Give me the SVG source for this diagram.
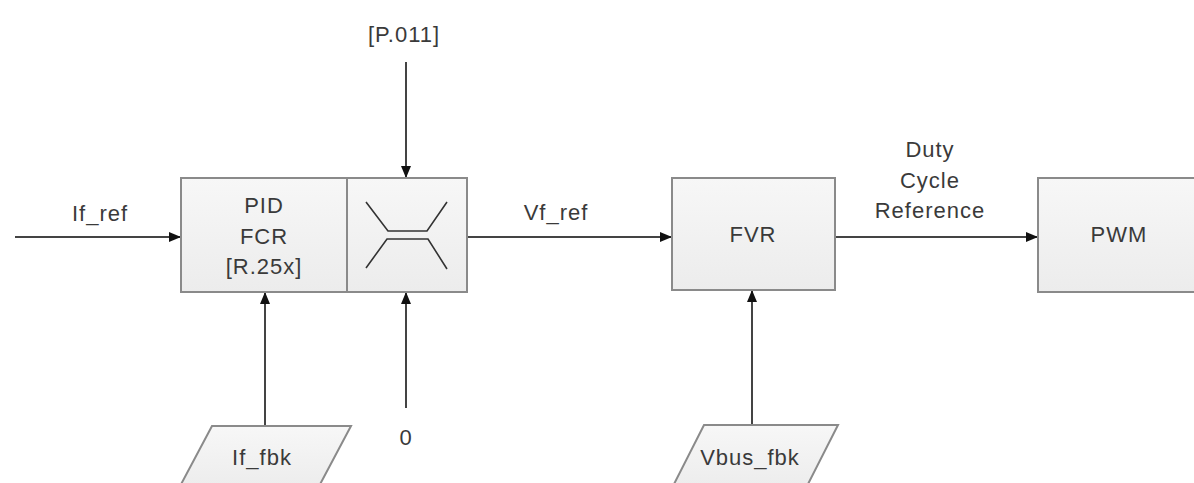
<svg xmlns="http://www.w3.org/2000/svg" width="1194" height="483" viewBox="0 0 1194 483">
<defs>
<linearGradient id="g" x1="0" y1="0" x2="0" y2="1">
<stop offset="0" stop-color="#f7f7f7"/>
<stop offset="1" stop-color="#ececec"/>
</linearGradient>
<marker id="arr" viewBox="0 0 12 10" refX="12" refY="5" markerWidth="12" markerHeight="10" markerUnits="userSpaceOnUse" orient="auto">
<path d="M0,0 L12,5 L0,10 Z" fill="#111"/>
</marker>
<style>
.box{fill:url(#g);stroke:#8a8a8a;stroke-width:2}
.ln{fill:none;stroke:#444;stroke-width:2}
.sym{fill:none;stroke:#333;stroke-width:1.6}
text{font-family:"Liberation Sans",Arial,sans-serif;font-size:22px;letter-spacing:1px;fill:#3a3a3a;text-anchor:middle}
</style>
</defs>
<g id="connectors">
<line class="ln" x1="15" y1="237" x2="181" y2="237" marker-end="url(#arr)"/>
<line class="ln" x1="406" y1="62" x2="406" y2="178" marker-end="url(#arr)"/>
<line class="ln" x1="467" y1="237" x2="672" y2="237" marker-end="url(#arr)"/>
<line class="ln" x1="835" y1="237" x2="1038" y2="237" marker-end="url(#arr)"/>
<line class="ln" x1="265" y1="425" x2="265" y2="292" marker-end="url(#arr)"/>
<line class="ln" x1="406" y1="408" x2="406" y2="292" marker-end="url(#arr)"/>
<line class="ln" x1="752" y1="425" x2="752" y2="290" marker-end="url(#arr)"/>
</g>
<g id="pid">
<rect class="box" x="181" y="178" width="286" height="114"/>
<line x1="347" y1="178" x2="347" y2="292" stroke="#8a8a8a" stroke-width="2"/>
<text x="264" y="213">PID</text>
<text x="264" y="244">FCR</text>
<text x="264" y="274">[R.25x]</text>
<path class="sym" d="M366,202 L388,231 L427,231 L447,202 M366,268 L387,239 L428,239 L447,269"/>
</g>
<g id="fvr">
<rect class="box" x="672" y="178" width="163" height="112"/>
<text x="753" y="242">FVR</text>
</g>
<g id="pwm">
<rect class="box" x="1038" y="178" width="170" height="114"/>
<text x="1119" y="242">PWM</text>
</g>
<g id="if_fbk">
<polygon class="box" points="212,426 351,426 317,490 178,490"/>
<text x="262" y="465">If_fbk</text>
</g>
<g id="vbus_fbk">
<polygon class="box" points="704,425 838,425 805,490 671,490"/>
<text x="750" y="465">Vbus_fbk</text>
</g>
<g id="labels">
<text x="100" y="221">If_ref</text>
<text x="556" y="220">Vf_ref</text>
<text x="404" y="42">[P.011]</text>
<text x="406" y="445">0</text>
<text x="930" y="157">Duty</text>
<text x="930" y="188">Cycle</text>
<text x="930" y="218">Reference</text>
</g>
</svg>
